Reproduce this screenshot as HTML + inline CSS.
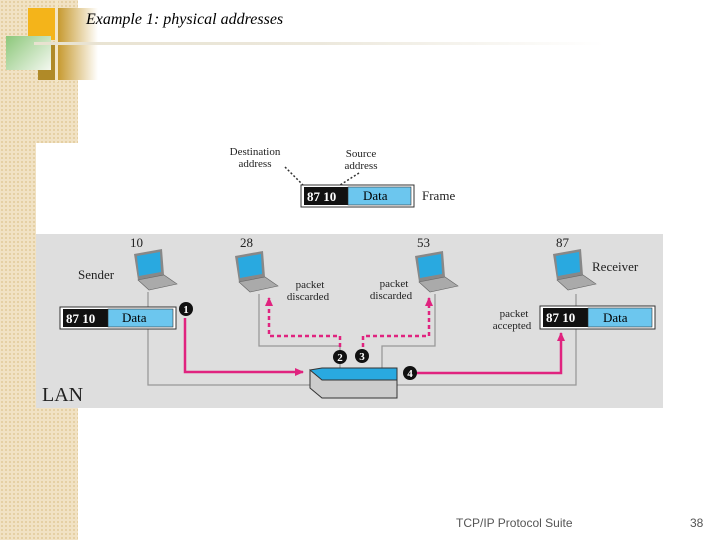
<!DOCTYPE html>
<html><head><style>
body{margin:0;width:720px;height:540px;position:relative;background:#fff;overflow:hidden;font-family:"Liberation Serif",serif}
.strip{position:absolute;left:0;top:0;width:78px;height:540px;background-color:#f1e2c4;background-image:radial-gradient(#e4cfa2 1px,transparent 1.2px);background-size:4px 4px}
</style></head><body>
<div class="strip"></div>
<div style="position:absolute;left:28px;top:8px;width:27px;height:32px;background:#f4b41a"></div>
<div style="position:absolute;left:38px;top:45px;width:20px;height:35px;background:#b08a28"></div>
<div style="position:absolute;left:58px;top:8px;width:40px;height:72px;background:linear-gradient(90deg,#c79a30,#fff)"></div>
<div style="position:absolute;left:6px;top:36px;width:45px;height:34px;background:linear-gradient(135deg,#8cc77a,#f4f8f0)"></div>
<div style="position:absolute;left:55px;top:0;width:3px;height:82px;background:#f3e6c7"></div>
<div style="position:absolute;left:34px;top:42px;width:570px;height:3px;background:linear-gradient(90deg,#e8e2d0,#ece8dc 50%,#fff)"></div>
<div style="position:absolute;left:86px;top:11px;font-size:16px;font-style:italic">Example 1: physical addresses</div>
<div style="position:absolute;left:36px;top:143px;width:42px;height:92px;background:#fff"></div>
<div style="position:absolute;left:36px;top:234px;width:627px;height:174px;background:#dedede"></div>
<svg width="720" height="540" style="position:absolute;left:0;top:0" font-family="Liberation Serif,serif">
<defs>
<g id="lt"><polygon points="0,0 28,-5 30,21 4,26" fill="#888"/><polygon points="3,2 26,-2 27,18 5,22" fill="#29a9e0"/><polygon points="4,26 30,21 43,30 15,36" fill="#aaa" stroke="#666" stroke-width="0.6"/></g>
<marker id="a" markerUnits="userSpaceOnUse" markerWidth="10" markerHeight="10" refX="8" refY="5" orient="auto"><path d="M0,1L9,5L0,9z" fill="#e0237f"/></marker>
</defs>
<g fill="none" stroke="#999" stroke-width="1.3">
<path d="M148 292V385H310"/><path d="M259 294V346H340V368"/><path d="M435 294V346H382V368"/><path d="M576 294V385H397"/></g>
<use href="#lt" x="134" y="254"/><use href="#lt" x="235" y="256"/><use href="#lt" x="415" y="256"/><use href="#lt" x="553" y="254"/>
<polygon points="310,370 322,368 397,368 397,380 310,380" fill="#29a9e0" stroke="#333"/>
<polygon points="310,370 322,380 397,380 397,398 322,398 310,388" fill="#ccc" stroke="#333"/>
<g font-size="13" fill="#222"><text x="130" y="247">10</text><text x="240" y="247">28</text><text x="417" y="247">53</text><text x="556" y="247">87</text>
<text x="78" y="279">Sender</text><text x="592" y="271">Receiver</text><text x="42" y="401" font-size="20">LAN</text><text x="422" y="200">Frame</text></g>
<g font-size="11" fill="#222" text-anchor="middle"><text x="310" y="288">packet</text><text x="308" y="300">discarded</text><text x="394" y="287">packet</text><text x="391" y="299">discarded</text><text x="514" y="317">packet</text><text x="512" y="329">accepted</text>
<text x="255" y="155">Destination</text><text x="255" y="167">address</text><text x="361" y="157">Source</text><text x="361" y="169">address</text></g>
<g stroke="#333" stroke-width="1.5" stroke-dasharray="2,2" fill="none"><path d="M285 167L304 186"/><path d="M359 173L337 187"/></g>
<g font-weight="bold" font-size="13"><rect x="301" y="185" width="113" height="22" fill="#fff" stroke="#333"/><rect x="304" y="187" width="44" height="18" fill="#111"/><rect x="348" y="187" width="63" height="18" fill="#6cc6ee" stroke="#333" stroke-width=".6"/><text x="307" y="201" fill="#fff">87 10</text><text x="363" y="200" font-weight="normal">Data</text>
<rect x="60" y="307" width="116" height="22" fill="#fff" stroke="#333"/><rect x="63" y="309" width="45" height="18" fill="#111"/><rect x="108" y="309" width="65" height="18" fill="#6cc6ee" stroke="#333" stroke-width=".6"/><text x="66" y="323" fill="#fff">87 10</text><text x="122" y="322" font-weight="normal">Data</text>
<rect x="540" y="306" width="115" height="23" fill="#fff" stroke="#333"/><rect x="543" y="308" width="45" height="19" fill="#111"/><rect x="588" y="308" width="64" height="19" fill="#6cc6ee" stroke="#333" stroke-width=".6"/><text x="546" y="322" fill="#fff">87 10</text><text x="603" y="322" font-weight="normal">Data</text></g>
<g fill="none" stroke="#e0237f" stroke-width="2.5"><path d="M185 318V372H303" marker-end="url(#a)"/><path d="M414 373H561V333" marker-end="url(#a)"/>
<g stroke-dasharray="4,3"><path d="M340 347V336H269V298" marker-end="url(#a)"/><path d="M363 347V336H429V298" marker-end="url(#a)"/></g></g>
<g font-size="11" font-weight="bold" text-anchor="middle" fill="#fff"><circle cx="186" cy="309" r="7" fill="#111"/><text x="186" y="313">1</text><circle cx="340" cy="357" r="7" fill="#111"/><text x="340" y="361">2</text><circle cx="362" cy="356" r="7" fill="#111"/><text x="362" y="360">3</text><circle cx="410" cy="373" r="7" fill="#111"/><text x="410" y="377">4</text></g>
<text x="456" y="527" font-family="Liberation Sans,sans-serif" font-size="12" fill="#555">TCP/IP Protocol Suite</text>
<text x="690" y="527" font-family="Liberation Sans,sans-serif" font-size="12" fill="#555">38</text>
</svg>
</body></html>
